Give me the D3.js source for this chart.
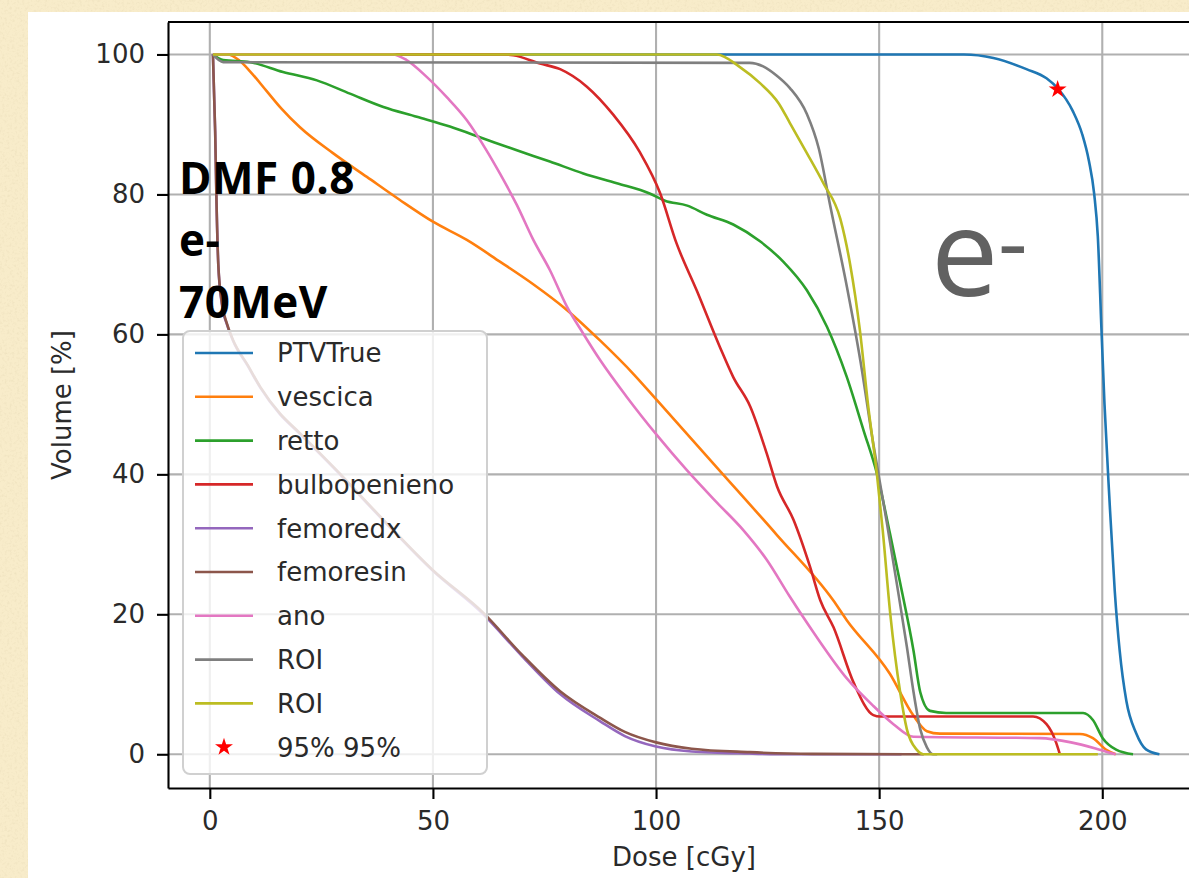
<!DOCTYPE html>
<html>
<head>
<meta charset="utf-8">
<script src="https://cdn.jsdelivr.net/npm/d3@7"></script>
<style>
  html, body { margin: 0; padding: 0; background: #f8ecca; }
  svg { display: block; }
</style>
</head>
<body>
<div id="wrapper"></div>
<script>
// tick values
var doseTicks = [0, 50, 100, 150, 200];
var volumeTicks = [0, 20, 40, 60, 80, 100];

// legend names and series, [dose cGy, volume %]
var seriesNames = ["PTVTrue", "vescica", "retto", "bulbopenieno", "femoredx", "femoresin", "ano", "ROI", "ROI"];
var seriesColors = ["#1f77b4", "#ff7f0e", "#2ca02c", "#d62728", "#9467bd", "#8c564b", "#e377c2", "#7f7f7f", "#bcbd22"];

var ptvTrue = [[0.7,100],[169,100],[175.6,99.5],[183,97.9],[187.5,96.6],[190.1,95.1],[193.4,91.9],[195.5,88.6],[197,84.8],[198.2,80],[199,74],[199.8,61],[200.5,50],[201.6,36.5],[202.8,23.3],[203.9,14.8],[205.4,7.6],[207.6,3],[209.8,0.7],[212.8,0]];
var vescica = [[0.7,100],[4,100],[6.5,99.2],[9,97.6],[12.7,94.8],[16,92.3],[20.2,89.6],[27.6,85.9],[35.2,82.5],[42.6,79.2],[50,76.1],[57.6,73.5],[65,70.4],[72.4,67.2],[80,63.5],[87.5,59.1],[95,54.3],[100.2,50.6],[113.6,41],[127,31.4],[139.7,22],[142.7,19.2],[152.4,11.5],[157.6,5.6],[160.7,3.3],[163.6,2.95],[195,2.9],[197.9,2.3],[200.9,0.65],[203,0]];
var retto = [[0.7,100],[3,99.2],[9,98.9],[16.4,97.5],[24,96.3],[31.4,94.4],[38.9,92.5],[46.4,91.1],[53.8,89.7],[61.3,88],[68.8,86.3],[76.2,84.7],[83.7,83],[91.2,81.6],[98.7,80.1],[102,79.1],[107,78.4],[111.4,77.1],[117.3,75.7],[123.3,73.3],[128.5,70.4],[133.8,66.3],[138.3,61.1],[142.7,54],[146.5,46.3],[149.5,40.1],[152.4,31.6],[154.7,24.5],[157.7,14.8],[159.2,8.9],[161.4,6.2],[165,5.9],[195.7,5.9],[197.9,4.9],[200.1,2.3],[203.1,0.66],[206.9,0]];
var bulbopenieno = [[0.7,100],[66,100],[68,99.9],[74,98.7],[78.5,97.9],[84.5,95.4],[90.4,91.4],[96.4,86],[100.9,80.2],[104.6,73],[109.1,66.3],[114.3,58.2],[117.3,53.9],[121.1,49.7],[124.8,43],[127.1,38.3],[130.8,33.5],[134.5,26.8],[136.8,22],[139.8,18.1],[144.3,10.2],[148.7,5.6],[150.2,5.4],[184.5,5.4],[187.5,4.3],[189.7,1.6],[190.5,0]];
var femoredx = [[0.7,100],[1.2,89],[1.5,79],[1.9,70],[2.7,64.3],[3.8,61.5],[5.2,59.1],[8.5,55.5],[11.3,52.4],[15.7,48.6],[20,45.9],[28.4,40.5],[38.9,33.4],[50,26.2],[61.3,20],[70,14],[78.5,8.6],[87.5,4.7],[93,2.6],[100,1.1],[108,0.4],[121,0.1],[130,0],[155,0]];
var femoresin = [[0.7,100],[1.2,89],[1.5,79],[1.9,70],[2.7,64.5],[3.8,61.6],[5.2,59.2],[8.5,55.6],[11.3,52.5],[15.7,48.7],[20,46],[28.4,40.6],[38.9,33.5],[50,26.3],[61.3,20.2],[70,14.2],[78.5,9],[87.5,5.2],[93,3.2],[100,1.7],[108,0.8],[121,0.3],[135,0.05],[160,0]];
var ano = [[0.7,100],[41,100],[44.1,99.2],[48.6,96.8],[53.1,93.9],[57.6,90.6],[62,86.3],[65,83],[68.8,78.5],[72.5,73.5],[76.2,69.2],[80,64],[83.7,60.1],[87.5,56.3],[93.4,51.1],[100.2,45.6],[106.9,40.6],[113.6,36],[119.6,32],[124.8,27.8],[130,22.5],[135.3,17.4],[142.8,10.8],[148.7,6.9],[153.2,4.3],[157.7,2.5],[186,2.3],[193,1.7],[199.4,0.66],[203,0]];
var roiGray = [[0.7,100],[3,98.9],[121,98.8],[124,98.3],[127,97],[130,95.2],[133.8,91.5],[136.5,86.5],[139,78.5],[142.8,66.7],[145.8,56.2],[148.7,44.3],[151.7,33.2],[153.9,24.6],[156.2,15.4],[157.7,8.9],[159.2,3.6],[160.7,1],[162.1,0],[163,0]];
var roiOlive = [[0.7,100],[113.6,100],[118.8,98.2],[123.3,95.9],[127.5,93],[130,90.2],[133.8,85.9],[137.5,81.6],[141.3,76.5],[143.5,70],[145.7,60.5],[147.5,50],[149.5,40],[150.8,32],[152.5,20],[154.7,8.9],[156.2,3.6],[158.4,0.66],[159.9,0],[199,0]];

var seriesData = [ptvTrue, vescica, retto, bulbopenieno, femoredx, femoresin, ano, roiGray, roiOlive];

var starPoint = [190, 95];
var starLabel = "95% 95%";
var noteLines = ["DMF 0.8", "e-", "70MeV"];

var W = 1189, H = 878;
var svg = d3.select('#wrapper').append('svg')
  .attr('width', W).attr('height', H);

// parchment background
var defs = svg.append('defs');
var f = defs.append('filter').attr('id', 'paper').attr('x', 0).attr('y', 0).attr('width', '100%').attr('height', '100%');
f.append('feTurbulence').attr('type', 'fractalNoise').attr('baseFrequency', 0.4).attr('numOctaves', 3).attr('seed', 4);
f.append('feColorMatrix').attr('type', 'matrix')
  .attr('values', '0 0 0 0 0.78  0 0 0 0 0.68  0 0 0 0 0.45  1.8 0 0 0 -0.85');
defs.append('clipPath').attr('id', 'plotclip').append('rect')
  .attr('x', 168).attr('y', 22).attr('width', 1040).attr('height', 766);

svg.append('rect').attr('width', W).attr('height', H).attr('fill', '#f8ecca');
svg.append('rect').attr('width', W).attr('height', H).attr('filter', 'url(#paper)').attr('opacity', 0.55);
svg.append('rect').attr('x', 28).attr('y', 12).attr('width', 1200).attr('height', 900).attr('fill', '#ffffff');

var x = d3.scaleLinear().domain([-9.37, 221.9]).range([168, 1200]);
var y = d3.scaleLinear().domain([-4.82, 104.64]).range([788, 22]);

var font = '"DejaVu Sans", sans-serif';
var textCol = '#2a2a2a';

// grid
var grid = svg.append('g');
grid.selectAll('.vg').data(doseTicks).enter().append('line')
  .attr('x1', function(d){ return x(d); }).attr('x2', function(d){ return x(d); })
  .attr('y1', 22).attr('y2', 788)
  .style('stroke', '#b0b0b0').style('stroke-width', 2.1);
grid.selectAll('.hg').data(volumeTicks).enter().append('line')
  .attr('x1', 168).attr('x2', 1200)
  .attr('y1', function(d){ return y(d); }).attr('y2', function(d){ return y(d); })
  .style('stroke', '#b0b0b0').style('stroke-width', 2.1);

// curves
var line = d3.line()
  .x(function(d){ return x(d[0]); })
  .y(function(d){ return y(d[1]); })
  .curve(d3.curveMonotoneX);

var plot = svg.append('g').attr('clip-path', 'url(#plotclip)');
plot.selectAll('path.dvh').data(seriesData).enter().append('path')
  .attr('class', 'dvh')
  .attr('d', line)
  .style('fill', 'none')
  .style('stroke', function(d, i){ return seriesColors[i]; })
  .style('stroke-width', 2.6)
  .style('stroke-linejoin', 'round');

var star = d3.symbol().type(d3.symbolStar).size(100);
plot.append('path')
  .attr('d', star)
  .attr('transform', 'translate(' + x(starPoint[0]) + ',' + y(starPoint[1]) + ')')
  .style('fill', '#ff0000');

// axes
var xAxis = svg.append('g').attr('transform', 'translate(0,788)')
  .call(d3.axisBottom(x).tickValues(doseTicks).tickSize(11).tickSizeOuter(0).tickPadding(13));
var yAxis = svg.append('g').attr('transform', 'translate(168,0)')
  .call(d3.axisLeft(y).tickValues(volumeTicks).tickSize(11).tickSizeOuter(0).tickPadding(12));
[xAxis, yAxis].forEach(function(a){
  a.select('.domain').style('stroke', '#000').style('stroke-width', 2.1);
  a.selectAll('.tick line').style('stroke', '#000').style('stroke-width', 2.1);
  a.selectAll('.tick text').style('font-family', font).style('font-size', '26px').style('fill', textCol);
});
svg.append('line').attr('x1', 168).attr('x2', 1200).attr('y1', 22).attr('y2', 22)
  .style('stroke', '#000').style('stroke-width', 2.1);

svg.append('text').attr('x', 684).attr('y', 866).attr('text-anchor', 'middle')
  .style('font-family', font).style('font-size', '26px').style('fill', textCol)
  .text('Dose [cGy]');
svg.append('text').attr('transform', 'translate(71,405) rotate(-90)').attr('text-anchor', 'middle')
  .style('font-family', font).style('font-size', '26px').style('fill', textCol)
  .text('Volume [%]');

// legend
var lg = svg.append('g');
lg.append('rect').attr('x', 183).attr('y', 331).attr('width', 304).attr('height', 443).attr('rx', 7)
  .style('fill', '#fff').style('fill-opacity', 0.8).style('stroke', '#d0d0d0').style('stroke-width', 2);
var rows = seriesNames.concat([starLabel]);
var item = lg.selectAll('g.item').data(rows).enter().append('g')
  .attr('transform', function(d, i){ return 'translate(0,' + (353 + 43.8 * i) + ')'; });
item.filter(function(d, i){ return i < seriesNames.length; }).append('line')
  .attr('x1', 195).attr('x2', 253).attr('y1', 0).attr('y2', 0)
  .style('stroke', function(d, i){ return seriesColors[i]; }).style('stroke-width', 2.6);
item.filter(function(d, i){ return i === seriesNames.length; }).append('path')
  .attr('d', star).attr('transform', 'translate(224,0)').style('fill', '#ff0000');
item.append('text').attr('x', 277).attr('dy', '0.36em')
  .style('font-family', font).style('font-size', '26px').style('fill', textCol)
  .text(function(d){ return d; });

// annotations
svg.selectAll('text.note').data(noteLines).enter().append('text')
  .attr('class', 'note')
  .attr('x', 179).attr('y', function(d, i){ return 194 + 62 * i; })
  .style('font-family', '"Open Sans", sans-serif').style('font-weight', 700)
  .style('font-size', '44px').style('letter-spacing', '0.5px').style('fill', '#000')
  .text(function(d){ return d; });

svg.append('text').attr('x', 931).attr('y', 296)
  .style('font-family', '"Open Sans", sans-serif').style('font-size', '120px').style('fill', '#616161')
  .text('e');
svg.append('text').attr('x', 998).attr('y', 274)
  .style('font-family', '"Open Sans", sans-serif').style('font-size', '92px').style('fill', '#616161')
  .text('-');
</script>
</body>
</html>
